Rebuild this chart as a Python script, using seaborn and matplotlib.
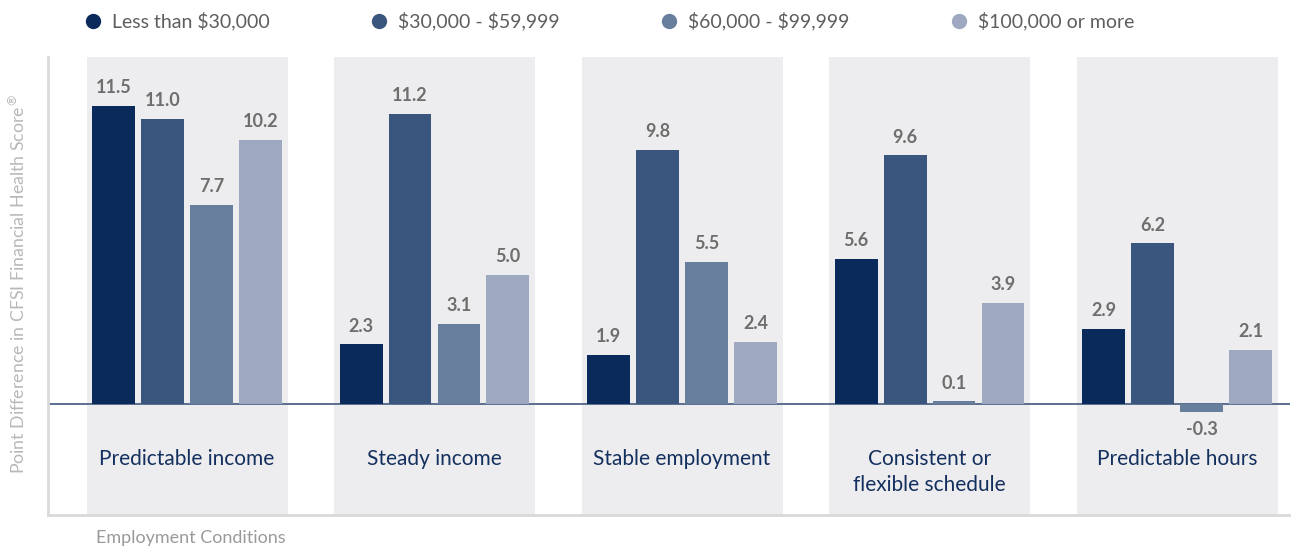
import numpy as np
import pandas as pd
import matplotlib
matplotlib.use("Agg")
import matplotlib.pyplot as plt
from matplotlib.lines import Line2D
import seaborn as sns

conditions = ["Predictable income", "Steady income", "Stable employment",
              "Consistent or\nflexible schedule", "Predictable hours"]
income_groups = ["Less than $30,000", "$30,000 - $59,999", "$60,000 - $99,999", "$100,000 or more"]
less_30k = [11.5, 2.3, 1.9, 5.6, 2.9]
k30_60 = [11.0, 11.2, 9.8, 9.6, 6.2]
k60_100 = [7.7, 3.1, 5.5, 0.1, -0.3]
k100_plus = [10.2, 5.0, 2.4, 3.9, 2.1]
colors = ["#0b2a5c", "#3a567e", "#687e9d", "#9ea9c1"]

series = [less_30k, k30_60, k60_100, k100_plus]
rows = []
for g, vals in zip(income_groups, series):
    for c, v in zip(conditions, vals):
        rows.append({"condition": c, "income": g, "value": v})
df = pd.DataFrame(rows)

sns.set_theme(style="white")
plt.rcParams["font.family"] = ["Lato", "DejaVu Sans"]

fig = plt.figure(figsize=(12.91, 5.5), dpi=100)
ax = fig.add_axes([48/1291, 1-515/550, (1290-48)/1291, (515-57)/550])

for i in range(len(conditions)):
    ax.axvspan(i-0.406, i+0.406, color="#ededef", zorder=0, lw=0)

sns.barplot(data=df, x="condition", y="value", hue="income", order=conditions,
            hue_order=income_groups, palette=colors, saturation=1, width=0.79,
            gap=0.125, legend=False, ax=ax, zorder=2, linewidth=0, edgecolor="none")

ax.axhline(0, color="#5b6f8e", lw=1.4, zorder=1)

for cont, vals in zip(ax.containers, series):
    ax.bar_label(cont, labels=[f"{v:.1f}" for v in vals], padding=7,
                 fontsize=13, fontweight="bold", color="#6e6e6e")

ax.set_xlim(-0.5616, 4.456)
ax.set_ylim(-111/25.9, 347/25.9)
ax.set_xticks([])
ax.set_yticks([])
ax.set_xlabel("")
ax.set_ylabel("")
for s in ["top", "right"]:
    ax.spines[s].set_visible(False)
for s in ["left", "bottom"]:
    ax.spines[s].set_color("#d9d9d9")
    ax.spines[s].set_linewidth(2)

for i, c in enumerate(conditions):
    ax.text(i, -1.72, c, ha="center", va="top", fontsize=15, color="#14305e",
            linespacing=1.4)

fig.text(18/1291, 1-284/550, r"Point Difference in CFSI Financial Health Score$^{\circledR}$",
         rotation=90, ha="center", va="center", fontsize=12.8, color="#b8b8b8")
fig.text(96/1291, 1-538/550, "Employment Conditions", ha="left", va="center",
         fontsize=13, color="#9a9a9a")

handles = [Line2D([0], [0], marker="o", ls="", markersize=10, color=col) for col in colors]
labels = [g.replace("$", r"\$") for g in income_groups]
fig.legend(handles, labels, ncol=4, frameon=False, loc="center left",
           bbox_to_anchor=(85/1291, 1-21/550), fontsize=14, labelcolor="#5e5e5e",
           handlelength=0.8, handletextpad=0.6, columnspacing=5.2, borderaxespad=0,
           borderpad=0)

fig.savefig("out.png", dpi=100)
